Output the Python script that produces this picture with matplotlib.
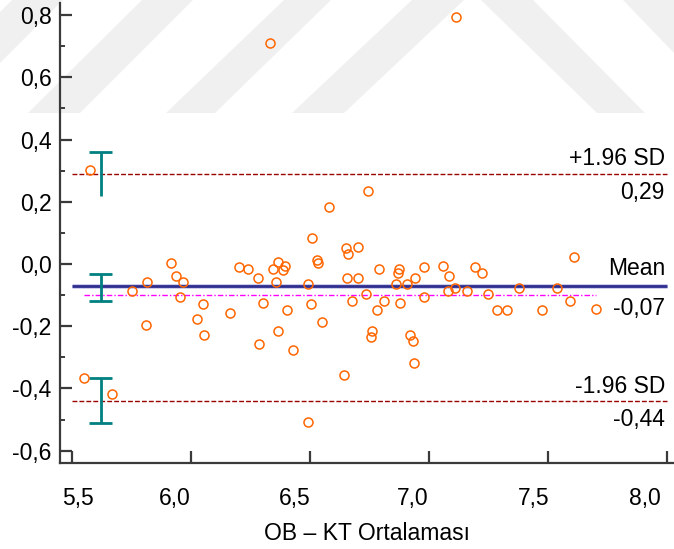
"""
Bland-Altman plot: OB vs KT differences against their average
"""

import matplotlib
matplotlib.use("Agg")
import matplotlib.pyplot as plt
import matplotlib.transforms as mtransforms
from matplotlib.patches import Polygon

plt.rcParams['font.family'] = ['Liberation Sans', 'DejaVu Sans']

# Average of the two methods (x) and their difference (y)
mean_vals = [5.576, 5.550, 5.667, 5.751, 5.814, 5.809, 5.915, 5.937, 5.967, 5.954,
             6.051, 6.026, 6.054, 6.164, 6.201, 6.238, 6.281, 6.301, 6.285, 6.344,
             6.363, 6.395, 6.388, 6.355, 6.363, 6.402, 6.428, 6.492, 6.492, 6.503,
             6.549, 6.529, 6.535, 6.507, 6.578, 6.332, 6.651, 6.657, 6.700, 6.656,
             6.700, 6.644, 6.675, 6.733, 6.742, 6.761, 6.755, 6.782, 6.791, 6.812,
             6.862, 6.873, 6.870, 6.878, 6.908, 6.941, 6.918, 6.932, 6.937, 6.979,
             6.979, 7.058, 7.084, 7.077, 7.109, 7.158, 7.113, 7.193, 7.222, 7.245,
             7.283, 7.325, 7.377, 7.475, 7.537, 7.592, 7.608, 7.699]
diff_vals = [0.302, -0.367, -0.419, -0.087, -0.057, -0.196, 0.002, -0.037, -0.058, -0.107,
             -0.127, -0.177, -0.228, -0.158, -0.009, -0.017, -0.045, -0.126, -0.256, -0.016,
             0.005, -0.008, -0.018, -0.058, -0.215, -0.148, -0.276, -0.507, -0.065, -0.127,
             -0.187, 0.013, 0.003, 0.085, 0.182, 0.711, 0.051, 0.032, 0.054, -0.044,
             -0.046, -0.357, -0.119, -0.098, 0.235, -0.215, -0.236, -0.148, -0.017, -0.119,
             -0.065, -0.017, -0.029, -0.126, -0.065, -0.044, -0.227, -0.247, -0.317, -0.009,
             -0.105, -0.008, -0.037, -0.086, -0.078, -0.087, 0.793, -0.009, -0.029, -0.097,
             -0.148, -0.148, -0.077, -0.148, -0.077, -0.119, 0.023, -0.146]

# Limits of agreement
mean_diff = -0.07
upper_loa = 0.29
lower_loa = -0.44
mean_label = "-0,07"
upper_label = "0,29"
lower_label = "-0,44"
trend_level = -0.10

# 95% confidence intervals of the three lines (low, high)
ci_upper = (0.219, 0.361)
ci_mean = (-0.118, -0.032)
ci_lower = (-0.512, -0.367)
ci_x = 5.62

yticks = [-0.6, -0.4, -0.2, 0.0, 0.2, 0.4, 0.6, 0.8]
ytick_labels = ['-0,6', '-0,4', '-0,2', '0,0', '0,2', '0,4', '0,6', '0,8']
yminor = [-0.5, -0.3, -0.1, 0.1, 0.3, 0.5, 0.7]
xticks = [5.5, 6.0, 6.5, 7.0, 7.5, 8.0]
xtick_labels = ['5,5', '6,0', '6,5', '7,0', '7,5', '8,0']
# horizontal nudge of each x tick label, in pixels
xlabel_nudge = [6, -16, -15, -16.5, -15, -22]

W, H = 674, 549
fig = plt.figure(figsize=(W / 100, H / 100), dpi=100)

# faint diagonal background bands
bands = [
    [(-101, 113), (-50, 113), (63, 0), (12, 0)],
    [(28, 113), (80, 113), (193, 0), (142, 0)],
    [(166, 113), (215, 113), (331, 0), (284, 0)],
    [(292, 113), (344, 113), (464, 0), (412, 0)],
    [(597, 113), (645, 113), (533, 0), (481, 0)],
    [(623, 0), (700, 0), (700, 80)],
]
for b in bands:
    pts = [(x / W, 1 - y / H) for x, y in b]
    fig.patches.append(Polygon(pts, closed=True, transform=fig.transFigure,
                               facecolor='#f0f0f0', edgecolor='none', zorder=-5))

ax = fig.add_axes([60 / W, 86 / H, 614 / W, 460 / H])
ax.patch.set_visible(False)
ax.set_xlim(5.4496, 8.028)
ax.set_ylim(-0.6395, 0.8387)

# Reference lines
x0, x1 = 5.5, 8.0
ax.hlines([upper_loa, lower_loa], x0, x1, colors='#990000', linewidth=1.0,
          linestyles=(0, (3.5, 1.5)), zorder=2)
ax.hlines(mean_diff, x0, x1, colors='#c0c0e6', linewidth=3.3, zorder=2)
ax.hlines(mean_diff, x0, x1, colors='#2e2e8f', linewidth=2.0, zorder=3)
ax.hlines(trend_level, min(mean_vals), max(mean_vals), colors='#ff00ff', linewidth=1.0,
          linestyles=(0, (4, 1.5, 1, 1.5)), zorder=2)

# Confidence interval bars (upper one has no lower cap)
cap = 0.05
teal = '#008080'
for (lo, hi), caps in [(ci_upper, ('hi',)), (ci_mean, ('lo', 'hi')),
                       (ci_lower, ('lo', 'hi'))]:
    ax.vlines(ci_x, lo, hi, colors=teal, linewidth=2.0, zorder=4)
    for c in caps:
        yv = hi if c == 'hi' else lo
        ax.hlines(yv, ci_x - cap, ci_x + cap, colors=teal, linewidth=2.0, zorder=4)

# Data points
ax.plot(mean_vals, diff_vals, linestyle='none', marker='o', markersize=6.5,
        markerfacecolor='none', markeredgecolor='#ff6600', markeredgewidth=1.1, zorder=5)

# Line labels
fs = 16.5
lab_x = 7.99
for yv, top_txt, bot_txt, up_off, dn_off in [
        (upper_loa, '+1.96 SD', upper_label, 6, -5),
        (mean_diff, 'Mean', mean_label, 8, -8),
        (lower_loa, '-1.96 SD', lower_label, 6, -5)]:
    ax.annotate(top_txt, (lab_x, yv), xytext=(0, up_off), textcoords='offset points',
                ha='right', va='baseline', fontsize=fs, color='black')
    ax.annotate(bot_txt, (lab_x, yv), xytext=(0, dn_off), textcoords='offset points',
                ha='right', va='top', fontsize=fs, color='black')

# Axes styling
for s in ['top', 'right']:
    ax.spines[s].set_visible(False)
for s in ['left', 'bottom']:
    ax.spines[s].set_color('#3a3a3a')
    ax.spines[s].set_linewidth(1.6)

ax.set_yticks(yticks)
ax.set_yticklabels(ytick_labels)
ax.set_yticks(yminor, minor=True)
ax.set_xticks(xticks)
ax.set_xticklabels(xtick_labels)
ax.tick_params(axis='y', which='major', direction='in', length=8.5, width=1.6,
               color='#3a3a3a', labelsize=fs, pad=6)
ax.tick_params(axis='y', which='minor', direction='in', length=3.8, width=1.4,
               color='#3a3a3a')
ax.tick_params(axis='x', which='major', direction='in', length=9, width=1.6,
               color='#3a3a3a', labelsize=fs, pad=17)
for lbl, dx in zip(ax.get_xticklabels(), xlabel_nudge):
    lbl.set_transform(lbl.get_transform() +
                      mtransforms.ScaledTranslation(dx / 100, 0, fig.dpi_scale_trans))
ax.set_xlabel('OB – KT Ortalaması', fontsize=fs, labelpad=9)

fig.savefig('out.png', dpi=100)
